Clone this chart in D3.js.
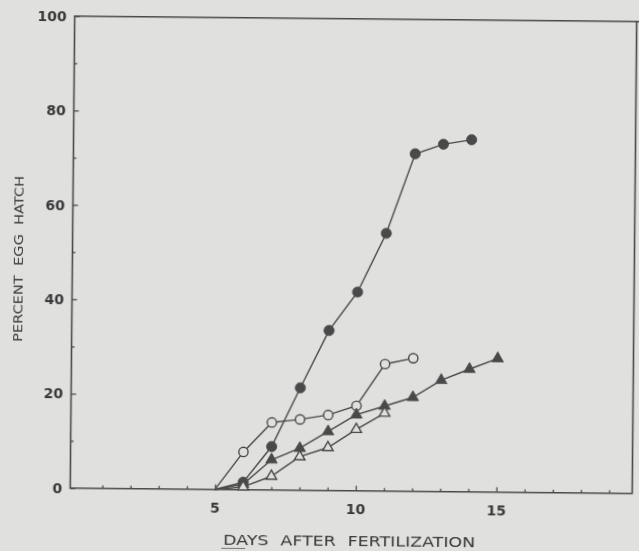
<!DOCTYPE html>
<html>
<head>
<meta charset="utf-8">
<script src="https://cdn.jsdelivr.net/npm/d3@7/dist/d3.min.js"></script>
<style>
  html, body { margin: 0; padding: 0; background: #e0e0de; }
  svg { display: block; }
</style>
</head>
<body>
<svg id="chart" width="639" height="551"></svg>
<script>
// Percent egg hatch by day after fertilization, four treatments
const filledCircleDays = [5, 6, 7, 8, 9, 10, 11, 12, 13, 14];
const filledCircleValues = [0, 1.6, 9.2, 21.7, 33.9, 42.1, 54.6, 71.5, 73.6, 74.6];

const openCircleDays = [5, 6, 7, 8, 9, 10, 11, 12];
const openCircleValues = [0, 8.0, 14.3, 15.0, 16.0, 18.0, 26.9, 28.2];

const filledTriangleDays = [5, 6, 7, 8, 9, 10, 11, 12, 13, 14, 15];
const filledTriangleValues = [0, 1.2, 6.4, 8.9, 12.5, 16.1, 18.0, 19.9, 23.6, 26.0, 28.3];

const openTriangleDays = [5, 6, 7, 8, 9, 10, 11];
const openTriangleValues = [0, 0.6, 2.9, 7.1, 9.1, 13.0, 16.5];

const xTickLabels = [5, 10, 15];
const yTickLabels = [0, 20, 40, 60, 80, 100];

const xTitle = "DAYS AFTER FERTILIZATION";
const yTitle = "PERCENT EGG HATCH";

const W = 639, H = 551;
const plot = { left: 72.5, right: 634.5, top: 18.7, bottom: 490.7 };

const x = d3.scaleLinear().domain([0, 20]).range([76.5, 76.5 + 28.15 * 20]);
const y = d3.scaleLinear().domain([0, 100]).range([plot.bottom, plot.top]);

const ink = "#4a4a4a";
const textInk = "#383838";
const paper = "#e0e0de";
const font = "'DejaVu Sans', Verdana, sans-serif";

const svg = d3.select("#chart");
svg.append("rect").attr("width", W).attr("height", H).attr("fill", paper);

const defs = svg.append("defs");
defs.append("filter").attr("id", "soft")
  .append("feGaussianBlur").attr("stdDeviation", 0.55);

// the whole figure sits slightly tilted on the page
const g = svg.append("g")
  .attr("filter", "url(#soft)")
  .attr("transform", "rotate(0.55, 350, 250)");

// frame
g.append("path")
  .attr("d", `M${plot.right + 8},${plot.top}H${plot.left}V${plot.bottom}H${plot.right}V${plot.top}`)
  .attr("fill", "none").attr("stroke", ink).attr("stroke-width", 1.6);

// x axis ticks pointing into the plot
const xAxis = d3.axisTop(x)
  .tickValues(d3.range(1, 20))
  .tickSize(3)
  .tickFormat("");
const gx = g.append("g").attr("transform", `translate(0,${plot.bottom})`).call(xAxis);
gx.select(".domain").remove();
gx.selectAll(".tick line")
  .attr("stroke", ink).attr("stroke-width", 1.3)
  .attr("y2", d => (d % 5 === 0 ? -5 : -3));

g.append("g").selectAll("text").data(xTickLabels).join("text")
  .attr("x", d => x(d)).attr("y", plot.bottom + 23)
  .attr("text-anchor", "middle")
  .attr("font-family", font).attr("font-weight", "bold").attr("font-size", 14)
  .attr("fill", textInk)
  .text(d => d);

// y axis ticks, also pointing into the plot
const yAxis = d3.axisRight(y)
  .tickValues(d3.range(0, 101, 10))
  .tickSize(3)
  .tickFormat("");
const gy = g.append("g").attr("transform", `translate(${plot.left},0)`).call(yAxis);
gy.select(".domain").remove();
gy.selectAll(".tick line")
  .attr("stroke", ink).attr("stroke-width", 1.3)
  .attr("x2", d => (d % 20 === 0 ? 5 : 3));

g.append("g").selectAll("text").data(yTickLabels).join("text")
  .attr("x", plot.left - 8).attr("y", d => y(d) + 5)
  .attr("text-anchor", "end")
  .attr("font-family", font).attr("font-weight", "bold").attr("font-size", 14)
  .attr("fill", textInk)
  .text(d => d);

// axis titles
g.append("text")
  .attr("x", 226).attr("y", 546)
  .attr("textLength", 252).attr("lengthAdjust", "spacingAndGlyphs")
  .attr("font-family", font).attr("font-size", 13.5).attr("word-spacing", 5)
  .attr("fill", textInk)
  .text(xTitle);
g.append("line")
  .attr("x1", 224).attr("x2", 248).attr("y1", 549.5).attr("y2", 549.5)
  .attr("stroke", "#777").attr("stroke-width", 1);

g.append("text")
  .attr("transform", "translate(23,345) rotate(-90)")
  .attr("textLength", 166).attr("lengthAdjust", "spacingAndGlyphs")
  .attr("font-family", font).attr("font-size", 12.5).attr("word-spacing", 4)
  .attr("fill", textInk)
  .text(yTitle);

// series
const series = [
  { days: filledCircleDays, values: filledCircleValues, shape: d3.symbolCircle, filled: true, size: 82 },
  { days: openCircleDays, values: openCircleValues, shape: d3.symbolCircle, filled: false, size: 68 },
  { days: filledTriangleDays, values: filledTriangleValues, shape: d3.symbolTriangle, filled: true, size: 58 },
  { days: openTriangleDays, values: openTriangleValues, shape: d3.symbolTriangle, filled: false, size: 48 }
];

const line = d3.line().x(p => x(p[0])).y(p => y(p[1]));

series.forEach(s => {
  const pts = s.days.map((d, i) => [d, s.values[i]]);
  g.append("path")
    .attr("d", line(pts))
    .attr("fill", "none").attr("stroke", ink).attr("stroke-width", 1.4);
});

series.forEach(s => {
  const pts = s.days.map((d, i) => [d, s.values[i]]).filter(p => p[0] > 5);
  const sym = d3.symbol().type(s.shape).size(s.size);
  g.append("g").selectAll("path").data(pts).join("path")
    .attr("d", sym)
    .attr("transform", p => `translate(${x(p[0])},${y(p[1])})`)
    .attr("fill", s.filled ? ink : paper)
    .attr("stroke", ink).attr("stroke-width", s.filled ? 0.8 : 1.4);
});
</script>
</body>
</html>
